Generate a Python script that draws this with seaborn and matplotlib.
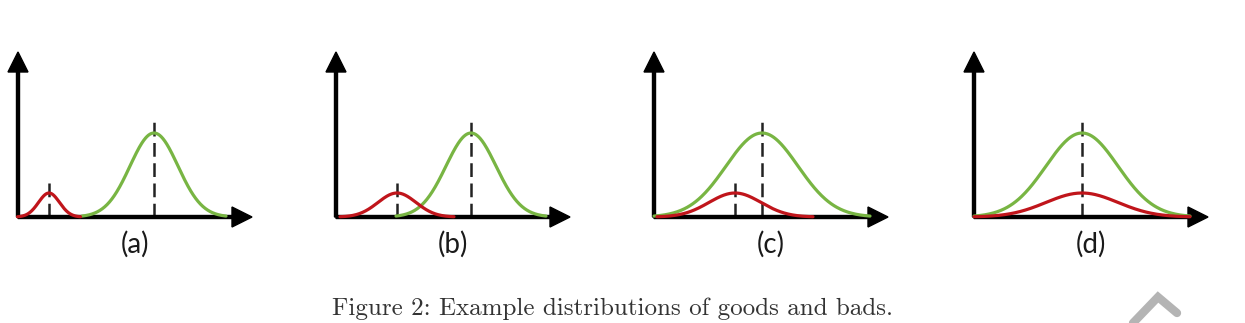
import matplotlib
matplotlib.use("Agg")
import matplotlib.pyplot as plt
from matplotlib.lines import Line2D
import seaborn as sns
import numpy as np
import pandas as pd

# panel labels and the two bell curves per panel (position, spread, height in px units)
panels = ["(a)", "(b)", "(c)", "(d)"]
good_mean = [136, 135, 108, 108]
good_sd = [24, 25, 36, 36]
good_peak = [84, 84, 84, 84]
bad_mean = [31, 61, 81, 108]
bad_sd = [10.5, 19, 26, 36]
bad_peak = [24, 24, 24, 24]
caption = "Figure 2: Example distributions of goods and bads."

GREEN = "#78b543"
RED = "#c0151b"

W, H = 1245, 323
origin_px = [18, 336, 654, 974]   # left edge of each panel's y axis
base_px = 217                      # baseline (x axis) row
x_len, y_len = 234, 165

sns.set_style("white")
fig = plt.figure(figsize=(W / 100, H / 100), dpi=100)


def bell(mean, sd, peak):
    x = np.linspace(mean - 3 * sd, mean + 3 * sd, 300)
    y = peak * np.exp(-0.5 * ((x - mean) / sd) ** 2)
    return pd.DataFrame({"x": x, "y": y})


for i, lab in enumerate(panels):
    # axes in pixel units so the arrows keep their shape
    left, right = origin_px[i] - 15, origin_px[i] + 240
    top, bottom = 40, 230
    ax = fig.add_axes([left / W, (H - bottom) / H, (right - left) / W, (bottom - top) / H])
    ax.set_xlim(-15, 240)
    ax.set_ylim(base_px - bottom, base_px - top)
    ax.axis("off")

    # axis arrows
    ax.arrow(0, 0, x_len, 0, width=3, head_width=20, head_length=20,
             length_includes_head=True, color="black", zorder=2)
    ax.arrow(0, 0, 0, y_len, width=3, head_width=20, head_length=20,
             length_includes_head=True, color="black", zorder=2)

    # dashed lines at the peaks
    ax.plot([good_mean[i]] * 2, [0, good_peak[i] + 15], color="#222222", lw=1.8,
            dashes=(5.5, 2.6), zorder=1)
    if bad_mean[i] != good_mean[i]:
        ax.plot([bad_mean[i]] * 2, [0, bad_peak[i] + 10], color="#222222", lw=1.8,
                dashes=(5.5, 2.6), zorder=1)

    g = bell(good_mean[i], good_sd[i], good_peak[i])
    b = bell(bad_mean[i], bad_sd[i], bad_peak[i])
    sns.lineplot(data=g, x="x", y="y", ax=ax, color=GREEN, lw=2.3, zorder=3, sort=False)
    sns.lineplot(data=b, x="x", y="y", ax=ax, color=RED, lw=2.3, zorder=4, sort=False)

    ax.text(117, -27, lab, ha="center", va="center", fontsize=20, family="Lato",
            color="#1a1a1a")

fig.text(612 / W, (H - 309) / H, caption, ha="center", va="center",
         fontsize=18, family="cmr10", color="#333333")

# grey corner mark at the bottom right
fig.add_artist(Line2D([1133 / W, 1158 / W, 1177 / W],
                      [(H - 323) / H, (H - 297) / H, (H - 313) / H],
                      color="#b4b4b4", lw=6, solid_joinstyle="miter"))

fig.savefig("out.png", dpi=100)
